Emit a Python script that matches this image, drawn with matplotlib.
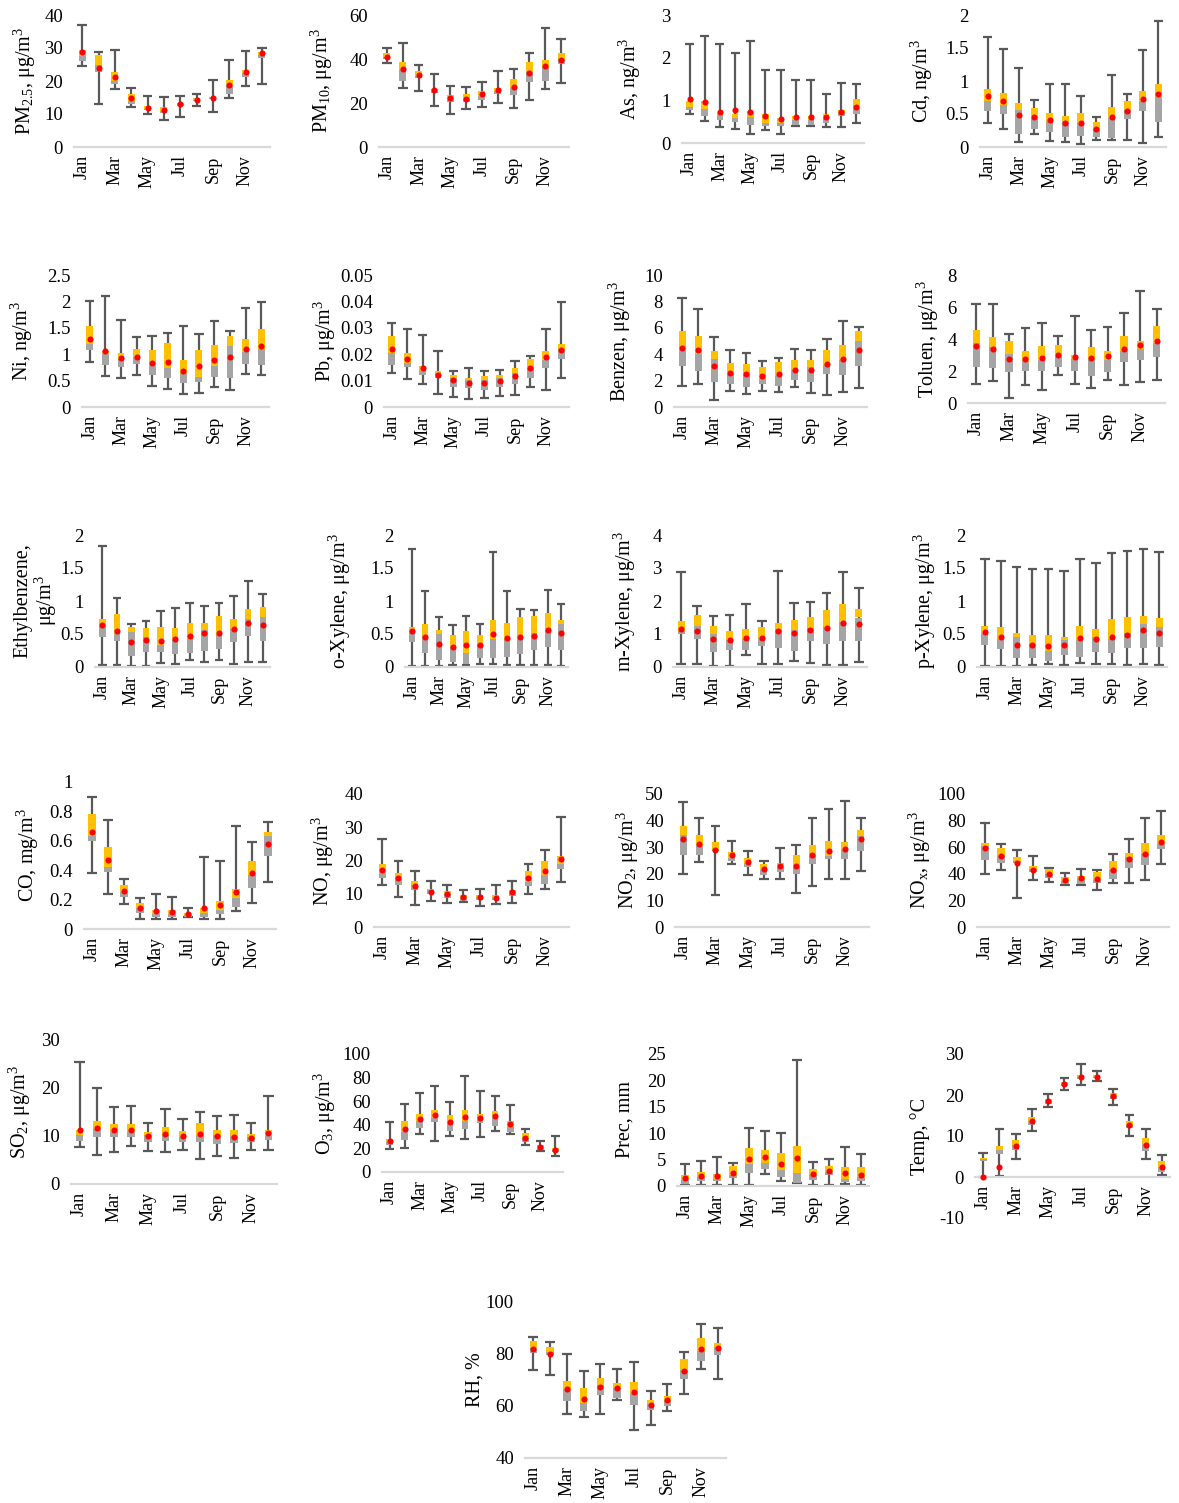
import numpy as np
import matplotlib
matplotlib.use("Agg")
import matplotlib.pyplot as plt

plt.rcParams['font.family'] = ['Liberation Serif', 'DejaVu Serif']
plt.rcParams['mathtext.fontset'] = 'custom'
plt.rcParams['mathtext.rm'] = 'Liberation Serif'
plt.rcParams['mathtext.it'] = 'Liberation Serif:italic'
plt.rcParams['mathtext.default'] = 'regular'

months = ['Jan', 'Feb', 'Mar', 'Apr', 'May', 'Jun',
          'Jul', 'Aug', 'Sep', 'Oct', 'Nov', 'Dec']

# every panel: rows = min, q1, median, q3, max, mean (Jan..Dec)
pm25 = [
    [24.6, 13.1, 17.7, 12.1, 10.0, 8.2, 9.0, 12.4, 10.6, 14.9, 18.5, 19.0],
    [26.0, 22.8, 19.0, 13.0, 11.1, 10.2, 12.3, 13.8, 14.6, 16.2, 21.1, 27.0],
    [27.5, 24.8, 20.0, 14.0, 11.6, 10.8, 12.8, 14.2, 14.9, 18.5, 22.3, 27.8],
    [29.5, 27.8, 22.8, 16.2, 12.3, 12.2, 13.3, 14.8, 15.2, 20.2, 23.3, 28.9],
    [36.9, 28.7, 29.4, 17.8, 15.5, 15.2, 15.5, 16.2, 20.3, 26.3, 29.2, 30.0],
    [28.9, 24.0, 21.3, 14.7, 11.7, 11.1, 12.9, 14.3, 14.9, 18.8, 22.7, 28.4],
]
pm10 = [
    [38.3, 26.6, 25.5, 18.5, 14.8, 17.2, 18.2, 19.8, 17.7, 21.5, 26.5, 29.2],
    [40.0, 30.1, 31.5, 24.5, 20.5, 20.5, 21.5, 24.3, 23.8, 29.5, 30.0, 37.7],
    [41.0, 34.9, 32.5, 25.2, 22.0, 21.6, 23.3, 25.6, 26.9, 34.2, 36.2, 40.0],
    [42.5, 38.7, 34.6, 26.5, 23.5, 24.0, 25.5, 27.0, 30.8, 38.5, 39.5, 42.8],
    [45.1, 47.1, 37.5, 33.4, 27.6, 27.3, 29.6, 34.6, 35.5, 42.6, 54.3, 49.2],
    [41.0, 35.3, 32.7, 25.8, 22.5, 22.0, 23.9, 26.1, 27.4, 33.5, 36.9, 39.5],
]
arsenic = [
    [0.67, 0.51, 0.37, 0.33, 0.20, 0.30, 0.20, 0.39, 0.39, 0.37, 0.37, 0.46],
    [0.78, 0.63, 0.55, 0.49, 0.43, 0.41, 0.41, 0.43, 0.43, 0.47, 0.63, 0.67],
    [0.85, 0.79, 0.65, 0.59, 0.61, 0.47, 0.47, 0.54, 0.54, 0.59, 0.71, 0.79],
    [0.98, 0.99, 0.71, 0.67, 0.75, 0.69, 0.59, 0.63, 0.63, 0.69, 0.77, 1.03],
    [2.33, 2.50, 2.33, 2.10, 2.40, 1.70, 1.70, 1.48, 1.48, 1.15, 1.40, 1.38],
    [1.02, 0.97, 0.73, 0.77, 0.73, 0.63, 0.57, 0.62, 0.62, 0.62, 0.73, 0.84],
]
cadmium = [
    [0.37, 0.27, 0.08, 0.20, 0.09, 0.08, 0.04, 0.11, 0.10, 0.10, 0.06, 0.15],
    [0.55, 0.50, 0.20, 0.28, 0.22, 0.15, 0.16, 0.15, 0.13, 0.42, 0.54, 0.38],
    [0.69, 0.64, 0.56, 0.43, 0.40, 0.38, 0.37, 0.27, 0.44, 0.56, 0.69, 0.76],
    [0.88, 0.82, 0.66, 0.59, 0.51, 0.47, 0.52, 0.38, 0.60, 0.69, 0.85, 0.95],
    [1.67, 1.49, 1.20, 0.71, 0.96, 0.96, 0.77, 0.46, 1.09, 0.80, 1.47, 1.91],
    [0.77, 0.69, 0.49, 0.46, 0.41, 0.36, 0.37, 0.28, 0.45, 0.55, 0.72, 0.80],
]
nickel = [
    [0.86, 0.59, 0.54, 0.60, 0.39, 0.34, 0.25, 0.27, 0.37, 0.33, 0.62, 0.60],
    [1.08, 0.80, 0.75, 0.81, 0.60, 0.54, 0.46, 0.48, 0.57, 0.54, 0.81, 0.80],
    [1.20, 1.00, 0.90, 0.95, 0.78, 0.73, 0.65, 0.56, 0.78, 1.15, 1.05, 1.09],
    [1.54, 1.07, 1.03, 1.09, 1.08, 1.21, 0.89, 1.08, 1.18, 1.35, 1.28, 1.48],
    [2.00, 2.11, 1.65, 1.32, 1.35, 1.40, 1.53, 1.39, 1.62, 1.43, 1.88, 1.98],
    [1.28, 1.07, 0.92, 0.95, 0.83, 0.86, 0.69, 0.78, 0.89, 0.95, 1.09, 1.16],
]
lead = [
    [0.0130, 0.0105, 0.0089, 0.0048, 0.0038, 0.0032, 0.0035, 0.0040, 0.0044, 0.0076, 0.0063, 0.0110],
    [0.0158, 0.0152, 0.0120, 0.0111, 0.0076, 0.0073, 0.0066, 0.0076, 0.0086, 0.0111, 0.0146, 0.0180],
    [0.0205, 0.0167, 0.0135, 0.0127, 0.0108, 0.0101, 0.0101, 0.0108, 0.0129, 0.0146, 0.0177, 0.0218],
    [0.0268, 0.0203, 0.0154, 0.0135, 0.0120, 0.0108, 0.0116, 0.0120, 0.0146, 0.0180, 0.0213, 0.0238],
    [0.0319, 0.0297, 0.0272, 0.0213, 0.0137, 0.0146, 0.0137, 0.0142, 0.0175, 0.0194, 0.0297, 0.0399],
    [0.0218, 0.0180, 0.0146, 0.0123, 0.0101, 0.0091, 0.0091, 0.0097, 0.0116, 0.0146, 0.0190, 0.0215],
]
benzen = [
    [1.60, 1.77, 0.56, 1.22, 1.00, 1.22, 1.11, 1.52, 1.06, 0.89, 1.11, 1.44],
    [3.09, 2.73, 1.90, 1.72, 1.52, 1.72, 1.60, 2.03, 1.90, 2.53, 2.46, 3.09],
    [4.35, 4.00, 3.60, 2.48, 2.40, 2.15, 2.33, 2.78, 3.04, 3.16, 3.54, 5.01],
    [5.75, 5.37, 4.25, 3.30, 3.24, 3.04, 3.42, 3.54, 3.54, 4.30, 4.68, 5.75],
    [8.23, 7.40, 5.30, 4.35, 4.10, 3.50, 3.72, 4.43, 4.30, 5.14, 6.53, 6.08],
    [4.50, 4.30, 3.14, 2.60, 2.48, 2.38, 2.48, 2.84, 2.78, 3.29, 3.62, 4.30],
]
toluen = [
    [1.20, 1.35, 0.31, 1.14, 0.83, 1.77, 1.20, 0.91, 1.41, 1.10, 1.29, 1.46],
    [2.24, 2.18, 1.93, 1.97, 1.97, 2.24, 1.97, 1.70, 1.91, 2.56, 2.66, 2.85],
    [3.78, 3.49, 3.08, 2.60, 2.70, 2.85, 2.74, 2.70, 2.70, 3.22, 3.37, 3.74],
    [4.57, 4.10, 3.90, 3.28, 3.57, 3.64, 3.01, 3.49, 3.22, 4.20, 3.89, 4.84],
    [6.17, 6.17, 4.32, 4.68, 5.03, 4.16, 5.45, 4.57, 4.78, 5.65, 7.00, 5.88],
    [3.57, 3.37, 2.74, 2.74, 2.80, 3.01, 2.85, 2.79, 2.91, 3.37, 3.60, 3.85],
]
ethylbenzene = [
    [0.03, 0.03, 0.01, 0.02, 0.06, 0.04, 0.10, 0.08, 0.10, 0.04, 0.08, 0.07],
    [0.46, 0.40, 0.16, 0.23, 0.23, 0.20, 0.21, 0.24, 0.27, 0.38, 0.47, 0.40],
    [0.60, 0.51, 0.53, 0.46, 0.33, 0.41, 0.42, 0.56, 0.48, 0.57, 0.72, 0.76],
    [0.72, 0.80, 0.60, 0.59, 0.60, 0.59, 0.67, 0.67, 0.78, 0.72, 0.88, 0.91],
    [1.84, 1.04, 0.65, 0.70, 0.85, 0.89, 0.97, 0.93, 0.97, 1.08, 1.30, 1.11],
    [0.63, 0.55, 0.38, 0.41, 0.40, 0.43, 0.47, 0.51, 0.51, 0.57, 0.67, 0.63],
]
o_xylene = [
    [0.01, 0.01, 0.01, 0.03, 0.03, 0.04, 0.04, 0.03, 0.03, 0.03, 0.03, 0.02],
    [0.38, 0.21, 0.11, 0.08, 0.05, 0.13, 0.13, 0.15, 0.19, 0.26, 0.31, 0.26],
    [0.54, 0.45, 0.50, 0.30, 0.21, 0.35, 0.42, 0.43, 0.43, 0.52, 0.56, 0.65],
    [0.60, 0.65, 0.56, 0.49, 0.54, 0.48, 0.71, 0.66, 0.76, 0.77, 0.82, 0.71],
    [1.79, 1.15, 0.76, 0.64, 0.77, 0.65, 1.75, 1.15, 0.88, 0.86, 1.16, 0.95],
    [0.54, 0.45, 0.35, 0.31, 0.33, 0.34, 0.50, 0.44, 0.45, 0.47, 0.56, 0.51],
]
m_xylene = [
    [0.10, 0.08, 0.03, 0.03, 0.35, 0.08, 0.08, 0.17, 0.13, 0.07, 0.07, 0.15],
    [0.99, 0.86, 0.46, 0.51, 0.51, 0.63, 0.59, 0.49, 0.78, 0.69, 0.79, 0.79],
    [1.09, 1.24, 1.01, 0.83, 0.86, 0.89, 1.11, 1.11, 1.19, 1.22, 1.37, 1.50],
    [1.39, 1.57, 1.24, 1.08, 1.14, 1.22, 1.32, 1.42, 1.52, 1.74, 1.92, 1.77],
    [2.89, 1.85, 1.54, 1.57, 1.92, 1.40, 2.92, 1.95, 1.97, 2.25, 2.89, 2.38],
    [1.16, 1.09, 0.84, 0.83, 0.89, 0.88, 1.09, 1.03, 1.11, 1.18, 1.34, 1.30],
]
p_xylene = [
    [0.02, 0.02, 0.02, 0.03, 0.05, 0.03, 0.06, 0.04, 0.04, 0.03, 0.04, 0.03],
    [0.33, 0.28, 0.13, 0.13, 0.09, 0.18, 0.15, 0.23, 0.21, 0.29, 0.29, 0.31],
    [0.50, 0.43, 0.45, 0.35, 0.24, 0.41, 0.41, 0.46, 0.43, 0.51, 0.65, 0.60],
    [0.62, 0.60, 0.51, 0.48, 0.48, 0.45, 0.62, 0.57, 0.72, 0.75, 0.77, 0.74],
    [1.64, 1.61, 1.51, 1.48, 1.48, 1.46, 1.64, 1.58, 1.72, 1.76, 1.79, 1.75],
    [0.53, 0.46, 0.34, 0.34, 0.32, 0.33, 0.44, 0.43, 0.46, 0.49, 0.56, 0.52],
]
co = [
    [0.38, 0.24, 0.17, 0.07, 0.07, 0.07, 0.085, 0.07, 0.07, 0.12, 0.18, 0.32],
    [0.60, 0.39, 0.22, 0.11, 0.085, 0.085, 0.085, 0.085, 0.10, 0.15, 0.28, 0.50],
    [0.63, 0.42, 0.25, 0.14, 0.10, 0.10, 0.096, 0.11, 0.13, 0.21, 0.37, 0.63],
    [0.78, 0.56, 0.30, 0.18, 0.13, 0.13, 0.11, 0.14, 0.19, 0.27, 0.46, 0.66],
    [0.90, 0.74, 0.34, 0.21, 0.24, 0.22, 0.14, 0.49, 0.46, 0.70, 0.59, 0.73],
    [0.66, 0.47, 0.26, 0.14, 0.12, 0.115, 0.10, 0.14, 0.165, 0.25, 0.38, 0.58],
]
no = [
    [12.7, 9.0, 6.7, 7.7, 7.1, 7.6, 6.4, 6.9, 7.2, 9.8, 11.5, 13.5],
    [14.6, 12.7, 11.2, 9.8, 8.8, 7.9, 8.1, 8.1, 9.2, 12.2, 13.0, 17.4],
    [16.3, 14.0, 12.5, 11.0, 9.8, 8.8, 9.0, 8.8, 10.2, 13.5, 15.6, 18.8],
    [18.8, 16.3, 13.7, 11.5, 10.8, 9.5, 9.5, 9.5, 11.2, 16.9, 19.9, 21.4],
    [26.6, 19.8, 16.9, 13.8, 12.5, 11.0, 11.5, 12.5, 13.7, 18.9, 23.2, 33.2],
    [17.1, 14.6, 12.2, 10.5, 9.8, 9.0, 9.0, 8.8, 10.5, 14.6, 16.8, 20.4],
]
no2 = [
    [20.0, 24.5, 11.9, 23.5, 19.7, 17.9, 17.9, 12.6, 15.6, 18.2, 18.2, 21.0],
    [27.2, 27.0, 28.7, 25.0, 22.5, 19.7, 20.7, 20.0, 23.5, 25.4, 25.4, 28.5],
    [34.7, 30.4, 29.5, 26.0, 24.1, 21.6, 22.5, 22.5, 26.6, 26.6, 29.1, 34.1],
    [37.9, 34.4, 32.0, 28.2, 26.0, 23.7, 24.1, 27.2, 30.7, 32.2, 31.9, 36.6],
    [47.0, 41.0, 38.1, 32.5, 28.5, 24.7, 29.7, 31.0, 41.0, 44.5, 47.5, 41.0],
    [33.2, 31.2, 29.1, 26.9, 24.5, 21.9, 23.1, 22.9, 27.0, 28.7, 29.5, 32.9],
]
nox = [
    [39.5, 42.5, 21.8, 35.4, 33.7, 31.6, 31.6, 27.8, 32.9, 32.9, 35.4, 47.6],
    [50.6, 48.1, 48.1, 41.3, 37.0, 32.4, 32.4, 32.9, 36.2, 44.6, 46.3, 59.0],
    [60.8, 53.9, 49.6, 43.8, 40.0, 34.9, 36.2, 35.4, 42.5, 52.7, 55.2, 62.3],
    [63.3, 59.7, 52.7, 45.6, 43.8, 37.5, 38.7, 41.3, 49.6, 55.7, 62.8, 69.1],
    [78.0, 62.3, 58.2, 53.2, 44.6, 40.5, 43.8, 42.5, 55.2, 65.8, 82.0, 87.0],
    [59.7, 53.4, 48.1, 42.5, 39.5, 35.4, 36.7, 36.2, 43.0, 50.9, 54.7, 64.1],
]
so2 = [
    [7.8, 6.0, 6.6, 7.9, 6.9, 6.6, 7.0, 5.2, 5.9, 5.5, 7.0, 7.1],
    [9.0, 9.7, 9.8, 9.7, 8.8, 9.0, 8.8, 8.8, 8.4, 8.6, 8.8, 9.1],
    [10.3, 11.4, 10.9, 10.9, 10.3, 10.3, 9.7, 10.3, 10.3, 10.0, 9.8, 10.0],
    [11.2, 13.1, 12.6, 12.4, 10.9, 11.9, 11.0, 12.8, 11.2, 11.2, 10.5, 11.2],
    [25.5, 20.0, 16.1, 16.3, 12.8, 15.7, 13.6, 15.0, 14.1, 14.3, 12.8, 18.4],
    [11.2, 11.7, 11.2, 11.2, 10.0, 10.5, 10.0, 10.5, 10.0, 9.8, 9.5, 10.6],
]
o3 = [
    [19.3, 20.5, 31.8, 26.4, 30.4, 27.8, 29.3, 34.7, 32.1, 22.7, 17.9, 13.4],
    [22.7, 27.0, 37.5, 42.0, 34.7, 36.4, 41.2, 39.2, 34.1, 25.6, 18.5, 17.0],
    [25.6, 34.1, 43.2, 46.0, 40.3, 43.2, 44.0, 45.5, 38.4, 28.4, 20.5, 18.8],
    [27.6, 43.5, 48.9, 52.6, 48.3, 52.6, 48.9, 51.7, 43.2, 32.7, 22.7, 20.5],
    [42.0, 57.7, 66.8, 73.0, 59.7, 81.5, 68.8, 64.5, 56.8, 36.4, 26.1, 30.7],
    [26.1, 36.1, 44.9, 48.3, 42.6, 46.3, 45.5, 47.4, 40.3, 29.0, 21.3, 19.0],
]
prec = [
    [0.1, 0.1, 0.25, 0.1, 0.25, 2.2, 0.9, 0.6, 0.1, 0.1, 0.45, 0.1],
    [0.45, 0.9, 0.9, 1.5, 2.5, 3.3, 1.7, 0.6, 1.1, 2.0, 0.75, 0.9],
    [1.1, 1.7, 1.4, 2.15, 4.2, 4.4, 3.1, 2.5, 2.0, 2.7, 1.4, 1.7],
    [2.15, 2.66, 2.3, 3.8, 7.2, 6.9, 6.3, 7.5, 3.3, 3.7, 3.6, 3.6],
    [4.2, 4.7, 5.5, 4.4, 11.0, 10.4, 10.1, 23.9, 4.6, 5.2, 7.3, 6.1],
    [1.5, 1.9, 1.9, 2.5, 5.1, 5.4, 4.2, 5.3, 2.2, 2.8, 2.5, 2.0],
]
temp = [
    [0.0, 0.3, 4.5, 11.2, 17.0, 21.3, 22.5, 23.5, 17.5, 10.1, 4.5, 0.5],
    [3.9, 5.7, 6.7, 12.8, 17.7, 22.1, 24.0, 24.1, 19.1, 12.0, 6.3, 1.3],
    [4.3, 6.7, 7.9, 13.6, 18.3, 22.5, 24.4, 24.4, 19.7, 12.8, 8.1, 2.4],
    [4.7, 7.5, 9.1, 14.6, 19.1, 23.2, 24.9, 24.9, 20.5, 13.6, 9.4, 4.0],
    [5.9, 11.6, 10.5, 16.7, 20.2, 24.1, 27.6, 25.9, 21.5, 15.2, 11.6, 5.3],
    [0.0, 2.4, 7.5, 13.6, 18.6, 22.7, 24.5, 24.5, 19.8, 12.8, 7.9, 2.4],
]
rh = [
    [73.7, 71.8, 56.8, 55.6, 56.9, 62.0, 50.8, 52.5, 57.8, 64.5, 74.0, 70.2],
    [80.0, 79.4, 61.6, 57.8, 63.9, 63.1, 60.1, 58.4, 59.7, 70.2, 77.1, 79.4],
    [81.9, 80.7, 66.0, 61.0, 68.0, 66.7, 64.8, 60.6, 61.6, 73.7, 81.0, 82.6],
    [84.7, 82.4, 69.6, 66.7, 70.7, 68.6, 69.0, 62.2, 63.8, 77.9, 85.7, 83.8],
    [86.4, 84.5, 79.8, 73.3, 76.0, 73.9, 76.8, 65.7, 68.3, 80.7, 91.1, 89.6],
    [81.5, 79.8, 66.4, 62.5, 67.3, 66.9, 65.2, 60.1, 62.2, 73.4, 81.5, 81.9],
]

GREY = '#A5A5A5'
GOLD = '#FFC000'
WHISKER = '#595959'
AXLINE = '#D9D9D9'

W, H = 1179, 1503
fig = plt.figure(figsize=(W / 100, H / 100), dpi=100)

# (data, ylabel, ymin, ymax, step, axis left, right, top, bottom px, label x px)
panels = [
    (pm25, r'PM$_{2.5}$, μg/m$^{3}$', 0, 40, 10, 74, 270, 15, 147, 25),
    (pm10, r'PM$_{10}$, μg/m$^{3}$', 0, 60, 20, 379, 569, 15, 147, 322),
    (arsenic, r'As, ng/m$^{3}$', 0, 3, 1, 682, 864, 15, 143, 630),
    (cadmium, r'Cd, ng/m$^{3}$', 0, 2, 0.5, 980, 1166, 15, 147, 922),
    (nickel, r'Ni, ng/m$^{3}$', 0, 2.5, 0.5, 82, 269, 275, 407, 22),
    (lead, r'Pb, μg/m$^{3}$', 0, 0.05, 0.01, 384, 569, 275, 407, 325),
    (benzen, r'Benzen, μg/m$^{3}$', 0, 10, 2, 674, 867, 275, 407, 620),
    (toluen, r'Toluen, μg/m$^{3}$', 0, 8, 2, 968, 1165, 275, 403, 928),
    (ethylbenzene, 'Ethylbenzene,\nμg/m$^{3}$', 0, 2, 0.5, 95, 270, 535, 667, 36),
    (o_xylene, r'o-Xylene, μg/m$^{3}$', 0, 2, 0.5, 405, 568, 535, 667, 340),
    (m_xylene, r'm-Xylene, μg/m$^{3}$', 0, 4, 1, 673, 867, 535, 667, 625),
    (p_xylene, r'p-Xylene, μg/m$^{3}$', 0, 2, 0.5, 977, 1167, 535, 667, 925),
    (co, r'CO, mg/m$^{3}$', 0, 1, 0.2, 84, 276, 782, 929, 28),
    (no, r'NO, μg/m$^{3}$', 0, 40, 10, 374, 569, 794, 927, 323),
    (no2, r'NO$_{2}$, μg/m$^{3}$', 0, 50, 10, 675, 869, 794, 927, 628),
    (nox, r'NO$_{x}$, μg/m$^{3}$', 0, 100, 20, 977, 1169, 794, 927, 920),
    (so2, r'SO$_{2}$, μg/m$^{3}$', 0, 30, 10, 71, 277, 1040, 1184, 20),
    (o3, r'O$_{3}$, μg/m$^{3}$', 0, 100, 20, 382, 563, 1054, 1172, 325),
    (prec, 'Prec, mm', 0, 25, 5, 677, 869, 1054, 1186, 625),
    (temp, 'Temp, °C', -10, 30, 10, 975, 1170, 1054, 1218, 920),
    (rh, 'RH, %', 40, 100, 20, 525, 726, 1301, 1458, 475),
]


def fmt(v):
    return f"{round(v, 6):g}"


x = np.arange(1, 13)
for data, ylabel, ymin, ymax, step, left, right, top, bottom, lab_x in panels:
    lo, q1, med, q3, hi, mean = [np.array(r, dtype=float) for r in data]
    ax = fig.add_axes([left / W, 1 - bottom / H, (right - left) / W, (bottom - top) / H])

    for side in ['top', 'right', 'left']:
        ax.spines[side].set_visible(False)
    ax.spines['bottom'].set_color(AXLINE)
    ax.spines['bottom'].set_linewidth(1.6)
    if ymin < 0:
        ax.spines['bottom'].set_position(('data', 0))
    ax.patch.set_alpha(0)

    ax.vlines(x, lo, hi, color=WHISKER, lw=1.6, zorder=1)
    ax.hlines(lo, x - 0.3, x + 0.3, color=WHISKER, lw=1.6, zorder=1)
    ax.hlines(hi, x - 0.3, x + 0.3, color=WHISKER, lw=1.6, zorder=1)
    ax.bar(x, med - q1, bottom=q1, width=0.44, color=GREY, zorder=2)
    ax.bar(x, q3 - med, bottom=med, width=0.44, color=GOLD, zorder=2)
    ax.plot(x, mean, 'o', color='#FF0000', ms=4.4, mec='none', zorder=3)

    ax.set_xlim(0.5, 12.5)
    ax.set_ylim(ymin, ymax)
    ticks = np.arange(ymin, ymax + step / 2, step)
    ax.set_yticks(ticks)
    ax.set_yticklabels([fmt(t) for t in ticks], fontsize=13.5)
    ax.set_xticks(x[::2])
    ax.set_xticklabels(months[::2], rotation=90, fontsize=13)
    ax.tick_params(axis='both', length=0)
    ax.tick_params(axis='x', pad=6)
    ax.tick_params(axis='y', pad=8)

    fig.text(lab_x / W, 1 - (top + bottom) / 2 / H, ylabel, rotation=90,
             ha='center', va='center', fontsize=14.5, linespacing=1.0)

fig.savefig('out.png', dpi=100)
